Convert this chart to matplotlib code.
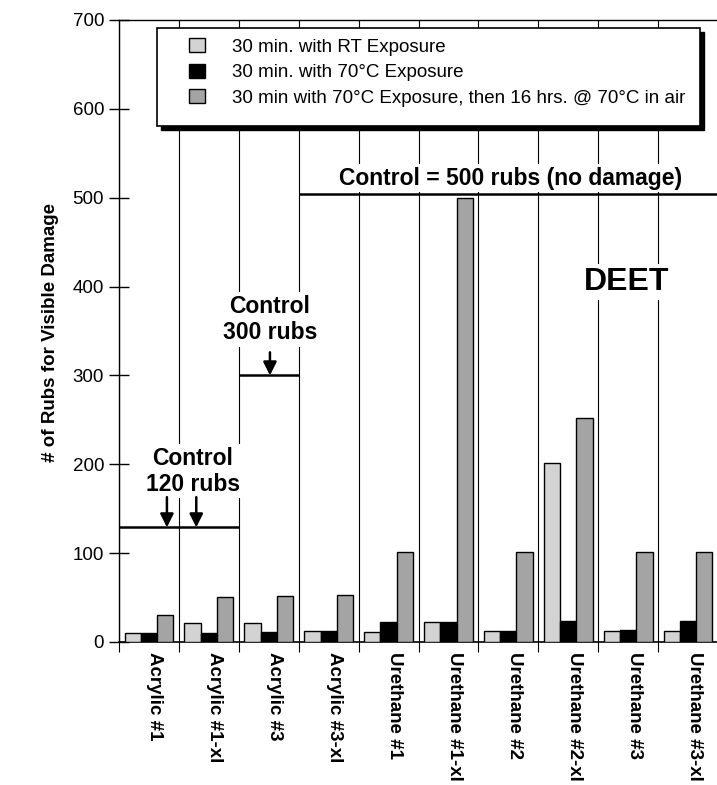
import matplotlib
matplotlib.use('Agg')
import matplotlib.pyplot as plt
from matplotlib.patches import Rectangle, Patch
from matplotlib.transforms import ScaledTranslation
import numpy as np

# ---------------- data ----------------
categories = ['Acrylic #1', 'Acrylic #1-xl', 'Acrylic #3', 'Acrylic #3-xl',
              'Urethane #1', 'Urethane #1-xl', 'Urethane #2', 'Urethane #2-xl',
              'Urethane #3', 'Urethane #3-xl']
rt_exposure = [10, 21, 21, 12, 11, 22, 12, 202, 12, 12]
exp_70c = [10, 10, 11, 12, 23, 23, 12, 24, 13, 24]
exp_70c_16h = [30, 51, 52, 53, 101, 500, 101, 252, 101, 101]
series_labels = ['30 min. with RT Exposure',
                 '30 min. with 70°C Exposure',
                 '30 min with 70°C Exposure, then 16 hrs. @ 70°C in air']
y_ticks = [0, 100, 200, 300, 400, 500, 600, 700]
# control levels: (start category edge, end category edge, level as drawn)
control_x0 = [-0.5, 1.5, 2.5]
control_x1 = [1.5, 2.5, 9.5]
control_level = [129, 300, 504]

plt.rcParams['font.family'] = ['Liberation Sans', 'DejaVu Sans']

W, H = 717, 785
fig = plt.figure(figsize=(W / 100, H / 100), dpi=100)
AX_L, AX_R, AX_T, AX_B = 119, 718, 20, 642
ax = fig.add_axes([AX_L / W, 1 - AX_B / H, (AX_R - AX_L) / W, (AX_B - AX_T) / H])


def axfx(px):
    return (px - AX_L) / (AX_R - AX_L)


def axfy(py):
    return (AX_B - py) / (AX_B - AX_T)


x = np.arange(len(categories))
bw = 0.272
colors = ['#d3d3d3', '#000000', '#a4a4a4']
for i, (vals, c) in enumerate(zip([rt_exposure, exp_70c, exp_70c_16h], colors)):
    ax.bar(x + (i - 1) * bw, vals, bw, color=c, edgecolor='black',
           linewidth=1.0, zorder=3)

ax.set_xlim(-0.5, len(categories) - 0.5)
ax.set_ylim(0, 700)
ax.set_axisbelow(True)

# category separators
ax.set_xticks(np.arange(-0.5, len(categories), 1.0), minor=True)
ax.grid(which='minor', axis='x', color='black', lw=0.8)
ax.tick_params(axis='x', which='minor', direction='out', length=7.5, width=0.8)
ax.set_xticks(x)
ax.set_xticklabels(categories, rotation=270, fontsize=13.5, fontweight='bold')
ax.tick_params(axis='x', which='major', length=0, pad=7)
shift = ScaledTranslation(6 / 100, 0, fig.dpi_scale_trans)
for lab in ax.get_xticklabels():
    lab.set_transform(lab.get_transform() + shift)

ax.set_yticks(y_ticks)
ax.tick_params(axis='y', direction='inout', length=14.4, width=1.0, pad=3.5,
               labelsize=13.5)

for s in ['left', 'top']:
    ax.spines[s].set_linewidth(1.0)
ax.spines['bottom'].set_linewidth(1.2)

ax.set_ylabel('# of Rubs for Visible Damage', fontsize=13.5, fontweight='bold')
ax.yaxis.set_label_coords(axfx(59), axfy(333))

# legend box with drop shadow
lw_, lh_ = axfx(700) - axfx(157), axfy(28) - axfy(126)
ax.add_patch(Rectangle((axfx(161), axfy(130)), lw_, lh_, transform=ax.transAxes,
                       facecolor='black', edgecolor='black', zorder=4.5))
ax.add_patch(Rectangle((axfx(157), axfy(126)), lw_, lh_, transform=ax.transAxes,
                       facecolor='white', edgecolor='black', lw=1.2, zorder=4.6))
handles = [Patch(facecolor=c, edgecolor='black') for c in colors]
leg = ax.legend(handles, series_labels, loc='upper left',
                bbox_to_anchor=(axfx(189), axfy(38)), frameon=False,
                borderpad=0, borderaxespad=0, handlelength=0.85,
                handleheight=0.8, handletextpad=1.45, labelspacing=0.42,
                fontsize=13.5)
leg.set_zorder(6)

# control lines
for x0, x1, lev in zip(control_x0, control_x1, control_level):
    ax.plot([x0, x1], [lev, lev], color='black', lw=1.8, zorder=4,
            solid_capstyle='butt', clip_on=False)

bbox = dict(facecolor='white', edgecolor='none', pad=2)
ax.text(0.735, 192, 'Control\n120 rubs', ha='center', va='center',
        fontsize=16.5, fontweight='bold', linespacing=1.15, bbox=bbox, zorder=5)
ax.text(2.02, 363, 'Control\n300 rubs', ha='center', va='center',
        fontsize=16.5, fontweight='bold', linespacing=1.15, bbox=bbox, zorder=5)
ax.text(6.04, 522, 'Control = 500 rubs (no damage)', ha='center', va='center',
        fontsize=16.5, fontweight='bold', bbox=bbox, zorder=5)
ax.text(7.98, 405, 'DEET', ha='center', va='center',
        fontsize=23, fontweight='bold', bbox=bbox, zorder=5)

arrow = dict(arrowstyle='-|>', color='black', lw=1.8, mutation_scale=20,
             shrinkA=0, shrinkB=0)
for ax_x, y_top, y_tip in [(0.30, 163, control_level[0]),
                           (0.79, 163, control_level[0]),
                           (2.02, 326, control_level[1])]:
    ax.annotate('', xy=(ax_x, y_tip), xytext=(ax_x, y_top), arrowprops=arrow,
                zorder=5)

fig.savefig('out.png', dpi=100)
